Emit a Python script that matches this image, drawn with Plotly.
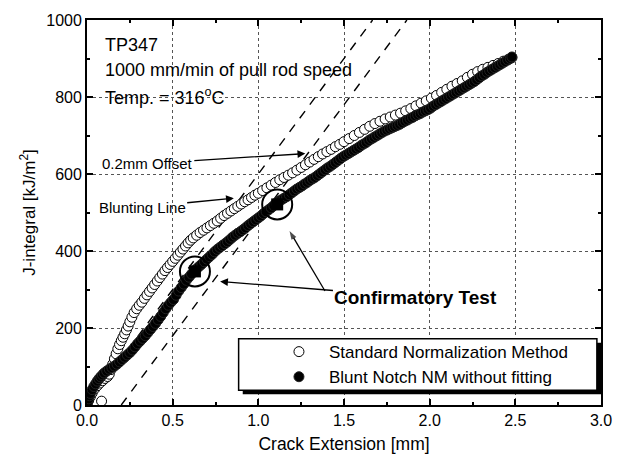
import plotly.graph_objects as go

# ---- data ----
std_x = [0.000, 0.010, 0.020, 0.030, 0.045, 0.060, 0.075, 0.090, 0.105, 0.120,
         0.130, 0.140, 0.150, 0.160, 0.170, 0.180, 0.190, 0.200, 0.210, 0.220,
         0.230, 0.240, 0.250, 0.262, 0.275, 0.290, 0.305, 0.320, 0.335, 0.350,
         0.365, 0.380, 0.395, 0.410, 0.425, 0.440, 0.455, 0.470, 0.485, 0.500,
         0.515, 0.530, 0.545, 0.560, 0.575, 0.590, 0.605, 0.620, 0.640, 0.660,
         0.680, 0.700, 0.720, 0.740, 0.760, 0.780, 0.800, 0.820, 0.840, 0.860,
         0.880, 0.900, 0.920, 0.940, 0.960, 0.980, 1.000, 1.025, 1.050, 1.075,
         1.100, 1.125, 1.150, 1.175, 1.200, 1.225, 1.250, 1.275, 1.300, 1.325,
         1.350, 1.375, 1.400, 1.425, 1.450, 1.475, 1.500, 1.530, 1.560, 1.590,
         1.620, 1.650, 1.680, 1.710, 1.740, 1.770, 1.800, 1.830, 1.860, 1.890,
         1.920, 1.950, 1.980, 2.010, 2.040, 2.070, 2.100, 2.130, 2.160, 2.190,
         2.220, 2.250, 2.280, 2.310, 2.340, 2.370, 2.400, 2.430, 2.460, 2.480,
         0.085]
std_y = [0, 12, 22, 31, 42, 50, 57, 63, 69, 74,
         80, 92, 106, 120, 133, 146, 157, 167, 176, 185,
         195, 205, 216, 228, 240, 250, 259, 267, 277, 286,
         295, 304, 313, 322, 331, 340, 349, 357, 365, 373,
         381, 389, 397, 405, 413, 421, 428, 434, 441, 448,
         454, 460, 466, 472, 478, 485, 492, 498, 504, 510,
         516, 522, 528, 533, 539, 545, 550, 557, 564, 571,
         578, 585, 591, 597, 603, 610, 617, 624, 631, 638,
         645, 652, 658, 664, 671, 677, 684, 692, 700, 708,
         716, 724, 731, 737, 743, 748, 753, 758, 764, 770,
         777, 784, 790, 797, 804, 812, 820, 828, 835, 842,
         851, 859, 866, 872, 877, 882, 887, 893, 898, 902,
         10]

bn_x = [0.000, 0.005, 0.010, 0.015, 0.020, 0.030, 0.040, 0.050, 0.060, 0.070,
        0.080, 0.090, 0.100, 0.115, 0.130, 0.145, 0.160, 0.175, 0.190, 0.205,
        0.220, 0.235, 0.250, 0.265, 0.280, 0.295, 0.310, 0.325, 0.340, 0.355,
        0.370, 0.385, 0.400, 0.415, 0.430, 0.445, 0.460, 0.475, 0.490, 0.505,
        0.520, 0.535, 0.550, 0.565, 0.580, 0.595, 0.610, 0.625, 0.640, 0.655,
        0.670, 0.685, 0.700, 0.715, 0.730, 0.745, 0.760, 0.775, 0.790, 0.805,
        0.820, 0.835, 0.850, 0.865, 0.880, 0.895, 0.910, 0.925, 0.940, 0.955,
        0.970, 0.985, 1.000, 1.015, 1.030, 1.045, 1.060, 1.075, 1.090, 1.105,
        1.120, 1.135, 1.150, 1.165, 1.180, 1.195, 1.210, 1.225, 1.240, 1.255,
        1.270, 1.285, 1.300, 1.315, 1.330, 1.345, 1.360, 1.375, 1.390, 1.405,
        1.420, 1.435, 1.450, 1.465, 1.480, 1.495, 1.510, 1.525, 1.540, 1.555,
        1.570, 1.585, 1.600, 1.615, 1.630, 1.645, 1.660, 1.675, 1.690, 1.705,
        1.720, 1.735, 1.750, 1.765, 1.780, 1.795, 1.810, 1.825, 1.840, 1.855,
        1.870, 1.885, 1.900, 1.915, 1.930, 1.945, 1.960, 1.975, 1.990, 2.005,
        2.020, 2.035, 2.050, 2.065, 2.080, 2.095, 2.110, 2.125, 2.140, 2.155,
        2.170, 2.185, 2.200, 2.215, 2.230, 2.245, 2.260, 2.275, 2.290, 2.305,
        2.320, 2.335, 2.350, 2.365, 2.380, 2.395, 2.410, 2.425, 2.440, 2.455,
        2.470, 2.480]
bn_y = [0, 8, 16, 24, 30, 40, 48, 55, 62, 68,
        73, 78, 83, 88, 93, 97, 101, 106, 112, 118,
        124, 130, 136, 143, 151, 159, 166, 173, 180, 188,
        196, 204, 212, 221, 230, 240, 250, 259, 267, 274,
        285, 296, 305, 314, 324, 332, 340, 347, 354, 360,
        366, 372, 379, 385, 391, 398, 404, 409, 414, 419,
        424, 430, 436, 441, 446, 450, 455, 460, 466, 471,
        476, 481, 486, 491, 497, 502, 507, 512, 518, 524,
        529, 533, 537, 541, 546, 551, 556, 561, 565, 569,
        574, 578, 583, 587, 591, 596, 601, 606, 611, 616,
        620, 625, 630, 635, 640, 645, 649, 653, 657, 661,
        665, 669, 674, 678, 682, 687, 691, 695, 699, 703,
        707, 711, 714, 717, 720, 723, 726, 729, 733, 737,
        740, 744, 747, 751, 754, 757, 761, 764, 767, 771,
        776, 780, 784, 788, 792, 796, 800, 804, 808, 812,
        816, 820, 824, 828, 832, 836, 840, 845, 850, 855,
        859, 864, 868, 872, 876, 880, 884, 888, 892, 896,
        900, 904]

confirm_x = [0.63, 1.11]
confirm_y = [347, 521]

blunt_x = [0.0, 1.667]
blunt_y = [0, 1000]
offset_x = [0.2, 1.867]
offset_y = [0, 1000]

FONT = "Arial, Liberation Sans, sans-serif"

fig = go.Figure()

fig.add_trace(go.Scatter(x=blunt_x, y=blunt_y, mode="lines", showlegend=False,
                         line=dict(color="black", width=1.4, dash="9px,8px"),
                         hoverinfo="skip"))
fig.add_trace(go.Scatter(x=offset_x, y=offset_y, mode="lines", showlegend=False,
                         line=dict(color="black", width=1.4, dash="9px,8px"),
                         hoverinfo="skip"))

fig.add_trace(go.Scatter(x=std_x, y=std_y, mode="markers",
                         name="Standard Normalization Method",
                         marker=dict(symbol="circle", size=10, color="white",
                                     line=dict(color="black", width=1))))
fig.add_trace(go.Scatter(x=bn_x, y=bn_y, mode="markers",
                         name="Blunt Notch NM without fitting",
                         marker=dict(symbol="circle", size=10, color="black",
                                     line=dict(color="#222", width=1))))
fig.add_trace(go.Scatter(x=confirm_x, y=confirm_y, mode="markers", showlegend=False,
                         marker=dict(symbol="square", size=12, color="black")))
fig.add_trace(go.Scatter(x=confirm_x, y=confirm_y, mode="markers", showlegend=False,
                         marker=dict(symbol="circle-open", size=30, color="black",
                                     line=dict(width=2, color="black"))))

# second arrow of "Confirmatory Test" (to the upper circle)
fig.add_trace(go.Scatter(x=[1.389, 1.182], y=[296, 452], mode="lines+markers",
                         showlegend=False, hoverinfo="skip",
                         line=dict(color="black", width=1.3),
                         marker=dict(symbol=["circle", "arrow"], size=[0, 9],
                                     angleref="previous", color="black",
                                     line=dict(width=0))))

# legend box with shadow (paper coords)
fig.add_shape(type="rect", xref="paper", yref="paper",
              x0=0.303, x1=1.0, y0=0.028, y1=0.162, layer="above",
              fillcolor="black", line=dict(width=0))
fig.add_shape(type="rect", xref="paper", yref="paper",
              x0=0.295, x1=0.992, y0=0.0386, y1=0.172, layer="above",
              fillcolor="white", line=dict(color="black", width=1.5))

ann = []
for t, yv in [("TP347", 936), ("1000 mm/min of pull rod speed", 871), ("Temp. = 316<sup>o</sup>C", 802)]:
    ann.append(dict(x=0.091, y=yv, xref="x", yref="y", text=t, showarrow=False,
                    xanchor="left", yanchor="middle", font=dict(size=18, color="black", family=FONT)))

arrow_style = dict(showarrow=True, arrowhead=2, arrowsize=1.2, arrowwidth=1.3,
                   arrowcolor="black", xref="x", yref="y", axref="x", ayref="y")
# labels with arrows: text centred at (ax, ay), arrow tip at (x, y)
ann.append(dict(x=1.274, y=653, ax=0.352, ay=627, text="0.2mm Offset",
                font=dict(size=15, color="black", family=FONT), **arrow_style))
ann.append(dict(x=0.857, y=537, ax=0.322, ay=514, text="Blunting Line",
                font=dict(size=15, color="black", family=FONT), **arrow_style))
ann.append(dict(x=0.777, y=321, ax=1.92, ay=280, text="<b>Confirmatory Test</b>",
                font=dict(size=19, color="black", family=FONT), **arrow_style))

axis_common = dict(showline=True, linecolor="black", linewidth=1.8, mirror="allticks",
                   ticks="inside", ticklen=6, tickwidth=1.5, tickcolor="black",
                   showgrid=True, gridcolor="#555", griddash="dot", gridwidth=1,
                   zeroline=False, tickfont=dict(size=16, color="black", family=FONT))

fig.update_layout(
    width=624, height=463,
    margin=dict(l=87, r=12, t=18, b=56),
    paper_bgcolor="white", plot_bgcolor="white",
    font=dict(family=FONT, color="black"),
    xaxis=dict(range=[0, 3], dtick=0.5, tick0=0, tickformat=".1f",
               minor=dict(dtick=0.25, ticks="inside", ticklen=3, tickcolor="black", showgrid=False),
               title=dict(text="Crack Extension [mm]", font=dict(size=17.5, family=FONT), standoff=10),
               **axis_common),
    yaxis=dict(range=[0, 1000], dtick=200, tick0=0,
               minor=dict(dtick=100, ticks="inside", ticklen=3, tickcolor="black", showgrid=False),
               title=dict(text="J-integral [kJ/m<sup>2</sup>]", font=dict(size=17, family=FONT), standoff=6),
               **axis_common),
    legend=dict(x=0.354, y=0.105, xanchor="left", yanchor="middle",
                bgcolor="rgba(0,0,0,0)", borderwidth=0, itemwidth=50,
                font=dict(size=17, color="black", family=FONT)),
    annotations=ann,
)

fig.write_html("out.html")
